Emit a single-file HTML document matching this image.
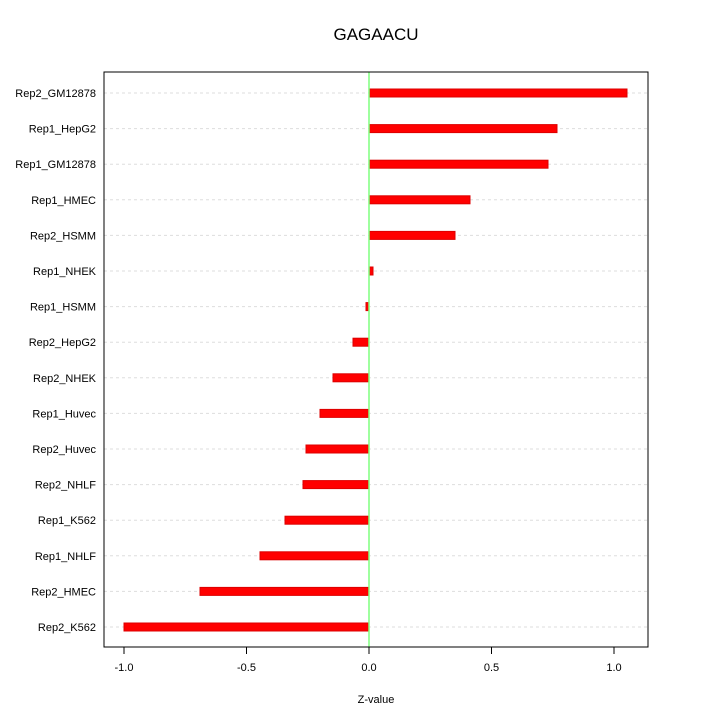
<!DOCTYPE html><html><head><style>body{margin:0;background:#fff}</style></head><body>
<svg width="720" height="720" xmlns="http://www.w3.org/2000/svg" font-family="Liberation Sans, sans-serif">
<rect width="720" height="720" fill="#fff"/>
<g stroke="#ddd" stroke-dasharray="3,3" stroke-width="1">
<line x1="104" x2="648" y1="93" y2="93"/><line x1="104" x2="648" y1="128.6" y2="128.6"/><line x1="104" x2="648" y1="164.2" y2="164.2"/><line x1="104" x2="648" y1="199.8" y2="199.8"/><line x1="104" x2="648" y1="235.4" y2="235.4"/><line x1="104" x2="648" y1="271" y2="271"/><line x1="104" x2="648" y1="306.6" y2="306.6"/><line x1="104" x2="648" y1="342.2" y2="342.2"/><line x1="104" x2="648" y1="377.8" y2="377.8"/><line x1="104" x2="648" y1="413.4" y2="413.4"/><line x1="104" x2="648" y1="449" y2="449"/><line x1="104" x2="648" y1="484.6" y2="484.6"/><line x1="104" x2="648" y1="520.2" y2="520.2"/><line x1="104" x2="648" y1="555.8" y2="555.8"/><line x1="104" x2="648" y1="591.4" y2="591.4"/><line x1="104" x2="648" y1="627" y2="627"/>
</g>
<g fill="#ff0000" stroke="#d00" stroke-width="1">
<rect x="369" y="89" width="258" height="8"/>
<rect x="369" y="124.6" width="188" height="8"/>
<rect x="369" y="160.2" width="179" height="8"/>
<rect x="369" y="195.8" width="101" height="8"/>
<rect x="369" y="231.4" width="86" height="8"/>
<rect x="369" y="267" width="4" height="8"/>
<rect x="366" y="302.6" width="3" height="8"/>
<rect x="353" y="338.2" width="16" height="8"/>
<rect x="333" y="373.8" width="36" height="8"/>
<rect x="320" y="409.4" width="49" height="8"/>
<rect x="306" y="445" width="63" height="8"/>
<rect x="303" y="480.6" width="66" height="8"/>
<rect x="285" y="516.2" width="84" height="8"/>
<rect x="260" y="551.8" width="109" height="8"/>
<rect x="200" y="587.4" width="169" height="8"/>
<rect x="124" y="623" width="245" height="8"/>
</g>
<line x1="369" x2="369" y1="72" y2="647" stroke="#7fff7f" stroke-width="1.5"/>
<rect x="104" y="72" width="544" height="575" fill="none" stroke="#000"/>
<g font-size="11" text-anchor="end" fill="#000">
<text x="96" y="97">Rep2_GM12878</text><text x="96" y="132.6">Rep1_HepG2</text><text x="96" y="168.2">Rep1_GM12878</text><text x="96" y="203.8">Rep1_HMEC</text><text x="96" y="239.4">Rep2_HSMM</text><text x="96" y="275">Rep1_NHEK</text><text x="96" y="310.6">Rep1_HSMM</text><text x="96" y="346.2">Rep2_HepG2</text><text x="96" y="381.8">Rep2_NHEK</text><text x="96" y="417.4">Rep1_Huvec</text><text x="96" y="453">Rep2_Huvec</text><text x="96" y="488.6">Rep2_NHLF</text><text x="96" y="524.2">Rep1_K562</text><text x="96" y="559.8">Rep1_NHLF</text><text x="96" y="595.4">Rep2_HMEC</text><text x="96" y="631">Rep2_K562</text>
</g>
<g stroke="#000">
<line x1="124" x2="124" y1="647" y2="654"/><line x1="246.5" x2="246.5" y1="647" y2="654"/><line x1="369" x2="369" y1="647" y2="654"/><line x1="491.5" x2="491.5" y1="647" y2="654"/><line x1="614" x2="614" y1="647" y2="654"/>
</g>
<g font-size="11" text-anchor="middle">
<text x="124" y="671">-1.0</text><text x="246.5" y="671">-0.5</text><text x="369" y="671">0.0</text><text x="491.5" y="671">0.5</text><text x="614" y="671">1.0</text>
<text x="376" y="703">Z-value</text>
</g>
<text x="376" y="40" font-size="17" text-anchor="middle">GAGAACU</text>
</svg>
</body></html>
